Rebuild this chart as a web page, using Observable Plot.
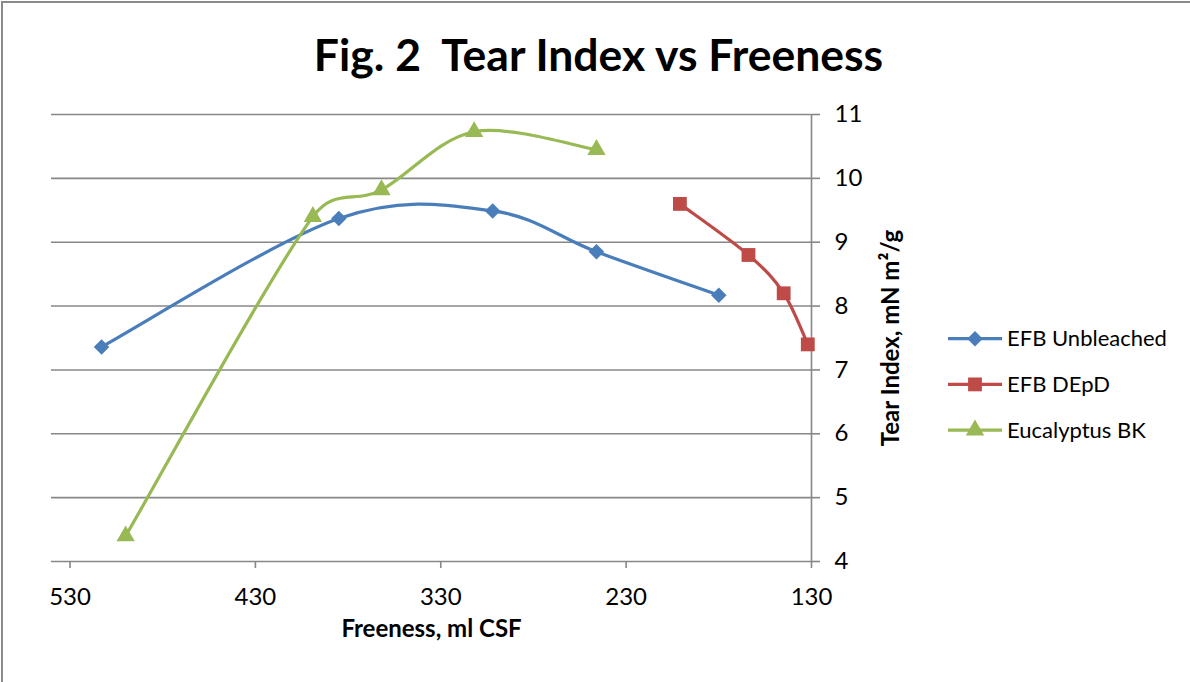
<!DOCTYPE html>
<html>
<head>
<meta charset="utf-8">
<script src="https://cdn.jsdelivr.net/npm/d3@7"></script>
<script src="https://cdn.jsdelivr.net/npm/@observablehq/plot@0.6"></script>
<style>
  html, body { margin: 0; padding: 0; background: #fff; }
  #wrap { position: relative; width: 1190px; height: 682px; overflow: hidden; font-family: Lato, "Open Sans", sans-serif; }
  #border { position: absolute; left: 1px; top: 1px; width: 1300px; height: 800px; border-left: 2px solid #8a8a8a; border-top: 2px solid #8a8a8a; }
  #title { position: absolute; left: 0; top: 24px; width: 1197px; text-align: center; font-weight: bold; font-size: 44.5px; line-height: 60px; color: #000; }
  #chart { position: absolute; left: 0; top: 100px; }
  #legend { position: absolute; left: 940px; top: 310px; }
</style>
</head>
<body>
<div id="wrap">
  <div id="border"></div>
  <div id="title">Fig. 2&nbsp; Tear Index vs Freeness</div>
  <div id="chart"></div>
  <div id="legend"></div>
</div>
<script>
// ---- data ----
const seriesNames = ["EFB Unbleached", "EFB DEpD", "Eucalyptus BK"];
const seriesColors = ["#4A7EBB", "#BE4B48", "#98B954"];
const seriesSymbols = ["diamond2", "square", "triangle"];

const freenessUnbleached = [513, 385, 302, 246, 180];
const tearUnbleached = [7.36, 9.37, 9.49, 8.85, 8.17];

const freenessDEpD = [201, 164, 145, 132];
const tearDEpD = [9.60, 8.80, 8.20, 7.40];

const freenessEucalyptus = [500, 399, 362, 312, 246];
const tearEucalyptus = [4.40, 9.40, 9.82, 10.73, 10.45];

const xTicks = [530, 430, 330, 230, 130];
const yTicks = [4, 5, 6, 7, 8, 9, 10, 11];

const xLabel = "Freeness, ml CSF";
const yLabel = "Tear Index, mN m²/g";

// ---- Excel-like smoothed line (Bezier with limited tangents) ----
function excelSmooth(context) {
  let pts = [];
  const dist = (a, b) => Math.hypot(b[0] - a[0], b[1] - a[1]);
  return {
    areaStart() {}, areaEnd() {},
    lineStart() { pts = []; },
    point(x, y) { pts.push([+x, +y]); },
    lineEnd() {
      const n = pts.length;
      if (!n) return;
      context.moveTo(pts[0][0], pts[0][1]);
      for (let i = 0; i < n - 1; i++) {
        const p0 = pts[Math.max(i - 1, 0)], p1 = pts[i], p2 = pts[i + 1], p3 = pts[Math.min(i + 2, n - 1)];
        const d12 = dist(p1, p2), d02 = dist(p0, p2), d13 = dist(p1, p3);
        let f1 = 1 / 6, f2 = 1 / 6;
        if (d02 > 0 && d02 / 6 > d12 / 2) f1 = d12 / 2 / d02;
        if (d13 > 0 && d13 / 6 > d12 / 2) f2 = d12 / 2 / d13;
        const c1 = [p1[0] + (p2[0] - p0[0]) * f1, p1[1] + (p2[1] - p0[1]) * f1];
        const c2 = [p2[0] - (p3[0] - p1[0]) * f2, p2[1] - (p3[1] - p1[1]) * f2];
        context.bezierCurveTo(c1[0], c1[1], c2[0], c2[1], p2[0], p2[1]);
      }
    }
  };
}

// ---- build table ----
const toRows = (xs, ys, name) => xs.map((x, i) => ({freeness: x, tear: ys[i], series: name}));
const series = [
  toRows(freenessUnbleached, tearUnbleached, seriesNames[0]),
  toRows(freenessDEpD, tearDEpD, seriesNames[1]),
  toRows(freenessEucalyptus, tearEucalyptus, seriesNames[2])
];
const symbolR = [7, 7.8, 6.8];
const gridColor = "#878787";
const font = "Lato, 'Open Sans', sans-serif";

const marks = [
  Plot.gridY(yTicks, {stroke: gridColor, strokeOpacity: 1, strokeWidth: 1.6}),
  Plot.ruleX([130], {stroke: gridColor, strokeWidth: 1.6}),
  Plot.axisX({ticks: xTicks, tickSize: 7, tickPadding: 19, fontSize: 24, stroke: gridColor, strokeWidth: 1.6, fill: "#000", label: null, tickFormat: d => String(d)}),
  Plot.axisY({anchor: "right", ticks: yTicks, tickSize: 8, tickPadding: 15, fontSize: 24, stroke: gridColor, strokeWidth: 1.6, fill: "#000", label: null, tickFormat: d => String(d)}),
  Plot.text([xLabel], {frameAnchor: "bottom", dy: 75, fontSize: 24, fontWeight: "bold", fill: "#000", fontFamily: font}),
  Plot.text([yLabel], {frameAnchor: "right", dx: 80, rotate: -90, textAnchor: "middle", fontSize: 24, fontWeight: "bold", fill: "#000", fontFamily: font})
];
series.forEach((rows, i) => {
  marks.push(Plot.line(rows, {x: "freeness", y: "tear", stroke: seriesColors[i], strokeWidth: 3.2, curve: excelSmooth}));
});
series.forEach((rows, i) => {
  marks.push(Plot.dot(rows, {x: "freeness", y: "tear", symbol: seriesSymbols[i], r: symbolR[i], fill: seriesColors[i], stroke: "none"}));
});

const chart = Plot.plot({
  width: 1190,
  height: 582,
  marginLeft: 51,
  marginRight: 379,
  marginTop: 14,
  marginBottom: 121,
  style: {fontFamily: font, background: "transparent", overflow: "visible"},
  x: {type: "linear", domain: [540, 130]},
  y: {domain: [4, 11]},
  marks
});
document.getElementById("chart").appendChild(chart);

// ---- legend ----
const lg = d3.select("#legend").append("svg").attr("width", 250).attr("height", 150)
  .style("overflow", "visible");
const symbolTypes = [d3.symbolDiamond2, d3.symbolSquare, d3.symbolTriangle];
seriesNames.forEach((name, i) => {
  const cy = 28.7 + i * 45.7;
  const g = lg.append("g").attr("transform", `translate(0,${cy})`);
  g.append("line").attr("x1", 8).attr("x2", 62).attr("y1", 0).attr("y2", 0)
    .attr("stroke", seriesColors[i]).attr("stroke-width", 3.2);
  g.append("path").attr("transform", "translate(35,0)")
    .attr("d", d3.symbol(symbolTypes[i], Math.PI * symbolR[i] * symbolR[i])())
    .attr("fill", seriesColors[i]);
  g.append("text").attr("x", 67).attr("y", 0).attr("dy", "0.35em")
    .attr("font-family", font).attr("font-size", 22).attr("fill", "#000").text(name);
});
</script>
</body>
</html>
